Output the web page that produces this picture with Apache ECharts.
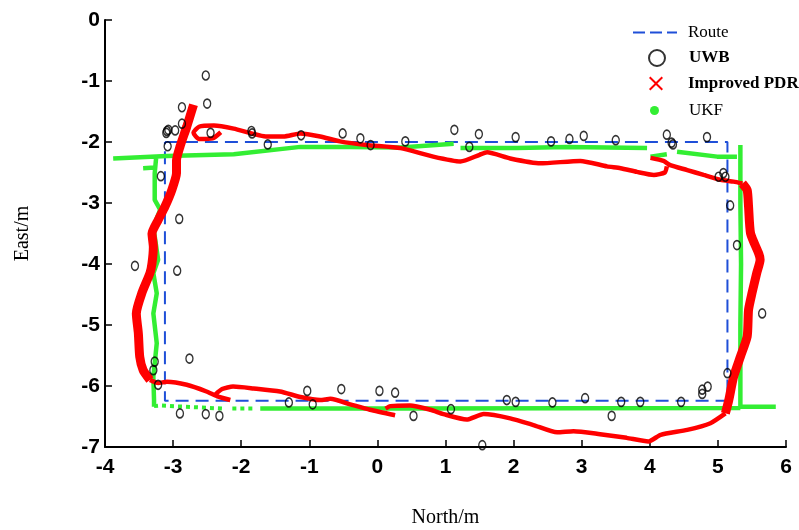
<!DOCTYPE html>
<html>
<head>
<meta charset="utf-8">
<script src="https://cdn.jsdelivr.net/npm/echarts@6/dist/echarts.min.js"></script>
<style>
  html, body { margin: 0; padding: 0; background: #fff; }
  #chart { width: 799px; height: 530px; }
</style>
</head>
<body>
<div id="chart"></div>
<script>
// route rectangle (north, east)
const routePts = [[-3.12, -2.0], [5.14, -2.0], [5.14, -6.24], [-3.12, -6.24], [-3.12, -2.0]];

// UWB fixes
const uwbPts = [
  [-2.52, -0.91], [-2.50, -1.37], [-2.87, -1.43], [-2.87, -1.70], [-3.09, -1.82], [-3.07, -1.80],
  [-3.10, -1.85], [-2.97, -1.81], [-3.08, -2.07], [-2.45, -1.85], [-1.85, -1.82], [-1.84, -1.86],
  [-1.61, -2.04], [-1.12, -1.89], [-0.51, -1.86], [-0.25, -1.94], [-0.10, -2.05], [-3.18, -2.56],
  [-2.91, -3.26], [-3.56, -4.03], [-2.94, -4.11], [0.41, -1.99], [1.13, -1.80], [1.49, -1.87],
  [1.35, -2.08], [2.03, -1.92], [2.55, -1.99], [2.82, -1.95], [3.03, -1.90], [3.50, -1.97],
  [4.25, -1.88], [4.32, -2.01], [4.34, -2.04], [4.84, -1.92], [5.01, -2.57], [5.08, -2.51],
  [5.11, -2.57], [5.18, -3.04], [5.28, -3.69], [5.65, -4.81], [5.14, -5.79], [4.77, -6.06],
  [4.77, -6.13], [4.85, -6.01], [4.46, -6.26], [3.86, -6.26], [3.58, -6.26], [3.05, -6.20],
  [3.44, -6.49], [2.57, -6.27], [2.03, -6.26], [1.90, -6.23], [1.08, -6.38], [0.53, -6.49],
  [1.54, -6.97], [-2.76, -5.55], [-3.29, -5.74], [-3.27, -5.60], [-3.22, -5.98], [-2.90, -6.45],
  [-2.52, -6.46], [-2.32, -6.49], [-1.30, -6.27], [-1.03, -6.08], [-0.95, -6.30], [-0.53, -6.05],
  [0.03, -6.08], [0.26, -6.11]
];

// Improved PDR, side legs (thick band)
const pdrLeft = [
  [-2.70, -1.39], [-2.80, -1.75], [-2.90, -2.08], [-2.95, -2.30], [-2.95, -2.51], [-3.02, -2.79],
  [-3.12, -3.06], [-3.22, -3.28], [-3.31, -3.50], [-3.29, -3.72], [-3.31, -3.99], [-3.34, -4.15],
  [-3.46, -4.48], [-3.54, -4.81], [-3.51, -5.14], [-3.49, -5.52], [-3.44, -5.74], [-3.34, -5.90]
];
const pdrRight = [
  [5.11, -6.45], [5.16, -6.23], [5.23, -5.85], [5.33, -5.52], [5.43, -5.19], [5.45, -4.75],
  [5.50, -4.48], [5.57, -4.15], [5.62, -3.93], [5.60, -3.83], [5.48, -3.50], [5.45, -3.06],
  [5.43, -2.79], [5.36, -2.68]
];
// Improved PDR, bottom and top legs
const pdrBottom = [
  [-3.34, -5.90], [-3.22, -5.95], [-3.09, -5.93], [-2.80, -5.98], [-2.51, -6.09], [-2.35, -6.17],
  [-2.16, -6.23], null,
  [-2.38, -6.14], [-2.28, -6.05], [-2.12, -6.01], [-1.82, -6.04], [-1.43, -6.09], [-1.13, -6.18],
  [-0.84, -6.23], [-0.69, -6.21], [-0.40, -6.30], [-0.11, -6.39], [0.26, -6.48], null,
  [0.12, -6.37], [0.19, -6.33], [0.48, -6.32], [0.78, -6.39], [0.97, -6.46], [1.31, -6.55],
  [1.56, -6.46], [1.95, -6.53], [2.29, -6.64], [2.64, -6.76], [2.88, -6.74], [3.27, -6.79],
  [3.66, -6.85], [3.98, -6.91], [4.16, -6.80], [4.55, -6.72], [4.89, -6.61], [5.11, -6.45]
];
const pdrTop = [
  [5.36, -2.68], [5.23, -2.65], [5.04, -2.62], [4.79, -2.54], [4.55, -2.46], [4.30, -2.38],
  [4.20, -2.31], [4.01, -2.26], null,
  [4.25, -2.40], [4.22, -2.50], [4.06, -2.54], [3.81, -2.49], [3.57, -2.43], [3.37, -2.40],
  [2.98, -2.31], [2.39, -2.35], [1.95, -2.27], [1.61, -2.17], [1.50, -2.21], [1.22, -2.32],
  [0.82, -2.24], [0.34, -2.10], [-0.16, -2.05], [-0.55, -1.99], [-0.84, -1.91], [-1.13, -1.86],
  [-1.38, -1.91], [-1.62, -1.91], [-2.11, -1.78], [-2.40, -1.73], [-2.62, -1.75], [-2.70, -1.85],
  [-2.62, -1.95], [-2.42, -1.94], [-2.30, -1.84]
];

// UKF estimate (solid stretches)
const ukfPts = [
  [-3.88, -2.27], [-3.09, -2.23], [-2.11, -2.20], [-1.13, -2.08], [-0.40, -2.08], [0.34, -2.09],
  [1.12, -2.03], null,
  [1.22, -2.10], [2.05, -2.10], [2.78, -2.08], [3.96, -2.10], null,
  [4.01, -2.24], [4.25, -2.20], null,
  [4.40, -2.16], [4.99, -2.24], [5.28, -2.24], null,
  [5.33, -2.05], [5.33, -3.00], [5.34, -4.00], [5.33, -5.00], [5.33, -6.34], [5.85, -6.34], null,
  [5.33, -6.36], [0.34, -6.37], [-1.72, -6.37], null,
  [-3.28, -6.34], [-3.28, -6.23], [-3.29, -5.85], [-3.24, -5.30],
  [-3.29, -4.81], [-3.24, -4.48], [-3.29, -4.15], [-3.22, -3.93], [-3.29, -3.39], [-3.19, -3.11],
  [-3.27, -2.95], [-3.27, -2.51], [-3.25, -2.27], null,
  [-3.44, -2.43], [-3.27, -2.42]
];
// UKF estimate (sparse dotted stretch, bottom left)
const ukfSparse = [
  [-3.28, -6.33], [-3.19, -6.32], [-2.27, -6.37], null,
  [-2.13, -6.37], [-1.78, -6.37]
];

const xTicks = [-4, 6, 1];
const yTicks = [-7, 0, 1];

const tickFont = {
  fontFamily: '"Liberation Sans Narrow", "Arial Narrow", "Liberation Sans", Arial, sans-serif',
  fontWeight: 'bold',
  fontSize: 21,
  color: '#000'
};
const serif = '"Liberation Serif", "Times New Roman", serif';
const blue = '#1f4fd8';
const red = '#ff0000';
const green = '#33ee33';

const chart = echarts.init(document.getElementById('chart'));

// one legend per entry so each row can sit where the reference has it
const legendBox = (name, left, top, icon, w, h, pad, bold) => ({
  data: [{ name: name, icon: icon }],
  left: left,
  top: top,
  padding: 0,
  itemWidth: w,
  itemHeight: h,
  itemGap: 0,
  selectedMode: false,
  textStyle: { fontFamily: serif, fontSize: 17, fontWeight: bold ? 'bold' : 'normal', color: '#000', padding: [0, 0, 0, pad] }
});

const dashPath = 'path://M0,0h12v2h-12Z M17,0h12v2h-12Z M34,0h10v2h-10Z';
const xPath = 'path://M0,1L1,0L5,4L9,0L10,1L6,5L10,9L9,10L5,6L1,10L0,9L4,5Z';

chart.setOption({
  animation: false,
  backgroundColor: '#fff',
  grid: { left: 105, right: 13, top: 20, bottom: 83, outerBoundsMode: 'none' },
  legend: [
    legendBox('Route', 633, 24, dashPath, 44, 2, 6, false),
    legendBox('UWB', 648, 49, 'circle', 16, 16, 19, true),
    legendBox('Improved PDR', 649, 75, xPath, 14, 14, 20, true),
    legendBox('UKF', 650, 102, 'circle', 9, 9, 25, false)
  ],
  xAxis: {
    type: 'value',
    min: xTicks[0], max: xTicks[1], interval: xTicks[2],
    name: 'North/m',
    nameLocation: 'middle',
    nameGap: 61,
    nameTextStyle: { fontFamily: serif, fontSize: 20, color: '#000' },
    axisLine: { onZero: false, lineStyle: { color: '#000', width: 2 } },
    axisTick: { inside: true, length: 7, lineStyle: { color: '#000', width: 1.5 } },
    axisLabel: Object.assign({ margin: 10 }, tickFont),
    splitLine: { show: false }
  },
  yAxis: {
    type: 'value',
    min: yTicks[0], max: yTicks[1], interval: yTicks[2],
    name: 'East/m',
    nameLocation: 'middle',
    nameGap: 72,
    nameRotate: 90,
    nameTextStyle: { fontFamily: serif, fontSize: 20, color: '#000' },
    axisLine: { onZero: false, lineStyle: { color: '#000', width: 2 } },
    axisTick: { inside: true, length: 7, lineStyle: { color: '#000', width: 1.5 } },
    axisLabel: Object.assign({ margin: 5 }, tickFont),
    splitLine: { show: false }
  },
  series: [
    {
      name: 'Route', type: 'line', data: routePts, symbol: 'none', z: 2,
      itemStyle: { color: blue },
      lineStyle: { color: blue, width: 2, type: [13, 7] }
    },
    {
      name: 'UKF', type: 'line', data: ukfPts, symbol: 'none', connectNulls: false, z: 3,
      itemStyle: { color: green },
      lineStyle: { color: green, width: 4.5 }
    },
    {
      name: 'UKF', type: 'line', data: ukfSparse, symbol: 'none', connectNulls: false, z: 3,
      itemStyle: { color: green },
      lineStyle: { color: green, width: 4, type: [4, 4] }
    },
    {
      name: 'Improved PDR', type: 'line', data: pdrBottom.concat([null], pdrTop), symbol: 'none',
      connectNulls: false, smooth: 0.2, z: 4,
      itemStyle: { color: red },
      lineStyle: { color: red, width: 4.5 }
    },
    {
      name: 'Improved PDR', type: 'line', data: pdrLeft.concat([null], pdrRight), symbol: 'none',
      connectNulls: false, smooth: 0.2, z: 4,
      itemStyle: { color: red },
      lineStyle: { color: red, width: 9 }
    },
    {
      name: 'UWB', type: 'scatter', data: uwbPts, symbol: 'circle', symbolSize: [7, 9], z: 5,
      itemStyle: { color: 'rgba(255,255,255,0)', borderColor: '#000', borderWidth: 1.5 }
    }
  ]
});
</script>
</body>
</html>
